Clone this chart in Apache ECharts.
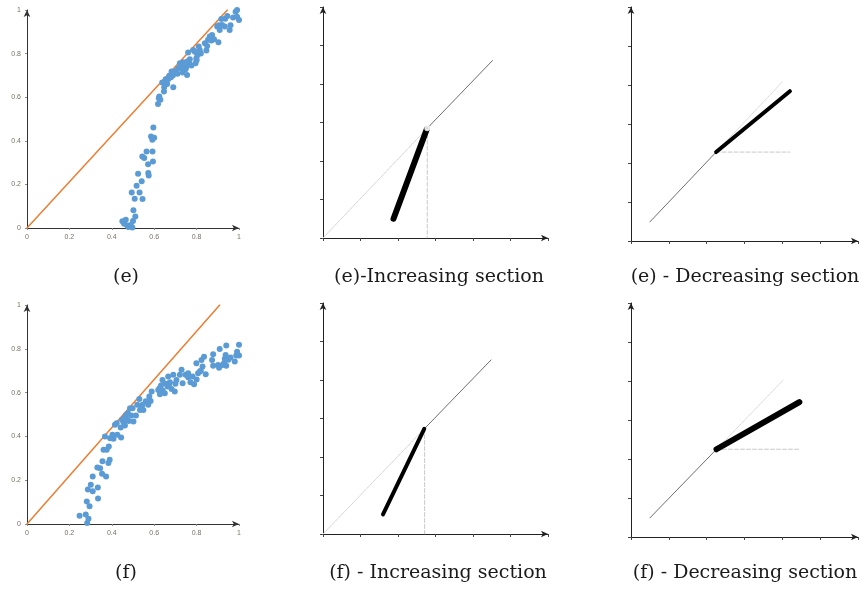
<!DOCTYPE html>
<html>
<head>
<meta charset="utf-8">
<script src="https://cdn.jsdelivr.net/npm/echarts@6/dist/echarts.min.js"></script>
<style>
  html, body { margin: 0; background: #fff; }
  #chart { width: 865px; height: 590px; }
</style>
</head>
<body>
<div id="chart"></div>
<script>
// scatter panels: measured points (x, y)
const ePoints = [
  [0.450,0.031],[0.466,0.038],[0.458,0.020],[0.473,0.011],[0.478,0.005],[0.489,0.014],[0.497,0.002],
  [0.500,0.032],[0.502,0.081],[0.511,0.053],[0.508,0.134],[0.494,0.163],[0.517,0.194],[0.531,0.163],
  [0.524,0.249],[0.541,0.214],[0.545,0.133],[0.544,0.328],[0.553,0.321],[0.571,0.293],[0.572,0.252],
  [0.574,0.241],[0.564,0.351],[0.594,0.305],[0.592,0.351],[0.585,0.420],[0.591,0.405],[0.600,0.414],
  [0.596,0.461],
  [0.618,0.569],[0.622,0.595],[0.629,0.588],[0.624,0.603],[0.638,0.667],[0.646,0.626],[0.647,0.646],
  [0.654,0.682],[0.661,0.661],[0.666,0.682],[0.671,0.698],[0.679,0.692],[0.682,0.718],[0.690,0.646],
  [0.710,0.707],[0.713,0.733],[0.721,0.756],[0.729,0.744],[0.734,0.713],[0.745,0.759],[0.752,0.740],
  [0.755,0.702],[0.760,0.805],[0.765,0.756],[0.768,0.774],[0.776,0.745],[0.784,0.817],[0.792,0.809],
  [0.795,0.756],[0.799,0.779],[0.804,0.794],[0.810,0.832],[0.815,0.817],[0.839,0.847],[0.846,0.814],
  [0.854,0.863],[0.862,0.878],[0.873,0.885],[0.882,0.866],[0.897,0.924],[0.903,0.852],[0.909,0.908],
  [0.917,0.959],[0.920,0.931],[0.933,0.924],[0.945,0.973],[0.956,0.908],[0.972,0.966],[0.984,0.992],
  [0.991,1.000],[0.991,0.969],[1.000,0.954],
  [0.725,0.735],[0.740,0.750],[0.748,0.728],[0.758,0.765],[0.735,0.760],[0.700,0.720],[0.688,0.700],
  [0.800,0.770],[0.820,0.800],[0.850,0.835],[0.870,0.860],[0.905,0.930],[0.935,0.960],[0.960,0.930]
]
const fPoints = [
  [0.248,0.038],[0.277,0.043],[0.284,0.005],[0.290,0.024],[0.282,0.103],[0.295,0.081],[0.287,0.157],
  [0.301,0.179],[0.310,0.217],[0.310,0.149],[0.334,0.167],[0.335,0.116],[0.332,0.258],[0.345,0.255],
  [0.356,0.286],[0.354,0.229],[0.373,0.217],[0.361,0.339],[0.376,0.339],[0.386,0.354],[0.384,0.278],
  [0.390,0.293],[0.368,0.400],[0.392,0.392],[0.403,0.407],[0.408,0.389],[0.415,0.453],[0.423,0.460],
  [0.426,0.407],[0.442,0.441],[0.444,0.395],[0.448,0.476],[0.458,0.483],[0.462,0.450],[0.467,0.498],
  [0.476,0.506],[0.486,0.529],[0.492,0.495],[0.498,0.529],[0.502,0.468],[0.514,0.495],[0.530,0.571],
  [0.533,0.521],[0.545,0.544],[0.549,0.521],[0.572,0.544],[0.577,0.582],[0.583,0.562],[0.588,0.605],
  [0.619,0.612],[0.627,0.593],[0.632,0.632],[0.639,0.658],[0.650,0.597],[0.663,0.628],[0.666,0.673],
  [0.674,0.647],[0.682,0.617],[0.690,0.681],[0.697,0.605],[0.705,0.658],[0.721,0.681],[0.729,0.704],
  [0.734,0.643],[0.748,0.681],[0.760,0.688],[0.771,0.647],[0.781,0.673],[0.788,0.638],[0.799,0.734],
  [0.807,0.688],[0.815,0.696],[0.823,0.749],[0.828,0.719],[0.835,0.764],[0.843,0.684],[0.873,0.749],
  [0.878,0.775],[0.878,0.723],[0.901,0.726],[0.906,0.714],[0.909,0.799],[0.922,0.726],[0.933,0.754],
  [0.940,0.815],[0.937,0.772],[0.940,0.723],[0.980,0.742],[0.987,0.769],[0.991,0.787],[1.000,0.818],
  [1.000,0.769],
  [0.470,0.480],[0.480,0.470],[0.455,0.465],[0.520,0.545],[0.540,0.530],[0.560,0.560],[0.625,0.620],
  [0.640,0.610],[0.655,0.640],[0.670,0.630],[0.700,0.640],[0.760,0.670],[0.800,0.660],[0.820,0.700],
  [0.950,0.750],[0.960,0.760],[0.930,0.735]
]
const eRefLine = [[0, 0], [0.945, 1]]
const fRefLine = [[0, 0], [0.909, 1]]

// (e) increasing section
const eIncDiag = [[0, 0], [2.78, 2.85]]
const eIncUpper = [[2.78, 2.85], [4.52, 4.61]]
const eIncThick = [[1.88, 0.50], [2.77, 2.83]]
const eIncDrop = [[2.78, 2.85], [2.78, 0]]
const eIncKink = [[2.78, 2.85]]
// (f) increasing section
const fIncDiag = [[0, 0], [2.71, 2.74]]
const fIncUpper = [[2.71, 2.74], [4.48, 4.52]]
const fIncThick = [[1.60, 0.51], [2.70, 2.73]]
const fIncDrop = [[2.71, 2.74], [2.71, 0]]
// (e) decreasing section
const eDecLower = [[0.50, 0.49], [2.25, 2.28]]
const eDecDiag = [[2.25, 2.28], [4.00, 4.08]]
const eDecThick = [[2.25, 2.28], [4.20, 3.84]]
const eDecFlat = [[2.25, 2.28], [4.20, 2.28]]
// (f) decreasing section
const fDecLower = [[0.50, 0.49], [2.26, 2.25]]
const fDecDiag = [[2.26, 2.25], [4.03, 4.03]]
const fDecThick = [[2.26, 2.25], [4.45, 3.46]]
const fDecFlat = [[2.26, 2.25], [4.45, 2.25]]

const captions = [
  ['(e)', 126, 277], ['(e)-Increasing section', 439, 277], ['(e) - Decreasing section', 745, 277],
  ['(f)', 126, 573], ['(f) - Increasing section', 438, 573], ['(f) - Decreasing section', 745, 573]
]

const chart = echarts.init(document.getElementById('chart'))

const grids = [
  { left: 27, top: 10, width: 212, height: 218 },
  { left: 323, top: 7, width: 225, height: 231 },
  { left: 631, top: 7, width: 227, height: 234 },
  { left: 27, top: 305, width: 212, height: 219 },
  { left: 323, top: 303, width: 225, height: 231 },
  { left: 631, top: 303, width: 227, height: 234 }
]

const arrowLine = (color) => ({
  show: true,
  symbol: ['none', 'arrow'],
  symbolSize: [5, 7],
  lineStyle: { color: color, width: 1 }
})

const scatterAxis = (i) => ({
  gridIndex: i,
  type: 'value',
  min: 0,
  max: 1,
  interval: 0.2,
  splitLine: { show: false },
  axisLine: arrowLine('#333'),
  axisTick: { show: true, length: 2, lineStyle: { color: '#888' } },
  axisLabel: { fontSize: 7, color: '#7a6f66', margin: 6, fontFamily: 'Liberation Sans' }
})

const plainAxis = (i) => ({
  gridIndex: i,
  type: 'value',
  min: 0,
  max: 6,
  interval: 1,
  splitLine: { show: false },
  axisLine: arrowLine('#222'),
  axisTick: { show: true, length: 3, lineStyle: { color: '#444' } },
  axisLabel: { show: false }
})

const xAxis = [], yAxis = []
for (let i = 0; i < 6; i++) {
  const isScatter = i === 0 || i === 3
  xAxis.push(isScatter ? scatterAxis(i) : plainAxis(i))
  yAxis.push(isScatter ? scatterAxis(i) : plainAxis(i))
}

const seg = (idx, data, color, width, type) => ({
  type: 'line',
  xAxisIndex: idx,
  yAxisIndex: idx,
  data: data,
  symbol: 'none',
  silent: true,
  lineStyle: { color: color, width: width, type: type || 'solid', cap: 'round' }
})

const dots = (idx, data) => ({
  type: 'scatter',
  xAxisIndex: idx,
  yAxisIndex: idx,
  data: data,
  symbolSize: 6,
  itemStyle: { color: '#5b9bd5', opacity: 1 },
  z: 3
})

const series = [
  dots(0, ePoints),
  seg(0, eRefLine, '#ed7d31', 1.5),
  dots(3, fPoints),
  seg(3, fRefLine, '#ed7d31', 1.5),

  seg(1, eIncDiag, '#d0d0d0', 1, 'dotted'),
  seg(1, eIncDrop, '#c8c8c8', 1, 'dashed'),
  seg(1, eIncUpper, '#6e6e6e', 1),
  seg(1, eIncThick, '#000', 6),
  {
    type: 'scatter', xAxisIndex: 1, yAxisIndex: 1, data: eIncKink,
    symbol: 'emptyCircle', symbolSize: 4, silent: true,
    itemStyle: { color: '#fff', borderColor: '#000', borderWidth: 1 }, z: 5
  },

  seg(4, fIncDiag, '#d0d0d0', 1, 'dotted'),
  seg(4, fIncDrop, '#c8c8c8', 1, 'dashed'),
  seg(4, fIncUpper, '#6e6e6e', 1),
  seg(4, fIncThick, '#000', 4),

  seg(2, eDecDiag, '#d8d8d8', 1, 'dotted'),
  seg(2, eDecFlat, '#c8c8c8', 1, 'dashed'),
  seg(2, eDecLower, '#6e6e6e', 1),
  seg(2, eDecThick, '#000', 4),

  seg(5, fDecDiag, '#d8d8d8', 1, 'dotted'),
  seg(5, fDecFlat, '#c8c8c8', 1, 'dashed'),
  seg(5, fDecLower, '#6e6e6e', 1),
  seg(5, fDecThick, '#000', 6)
]

const graphic = captions.map(([text, x, y]) => ({
  type: 'text',
  x: x,
  y: y,
  style: {
    text: text,
    fill: '#1a1a1a',
    font: '19px "DejaVu Serif"',
    textAlign: 'center',
    textVerticalAlign: 'middle'
  }
}))

chart.setOption({
  animation: false,
  backgroundColor: '#fff',
  grid: grids,
  xAxis: xAxis,
  yAxis: yAxis,
  series: series,
  graphic: graphic
})
</script>
</body>
</html>
